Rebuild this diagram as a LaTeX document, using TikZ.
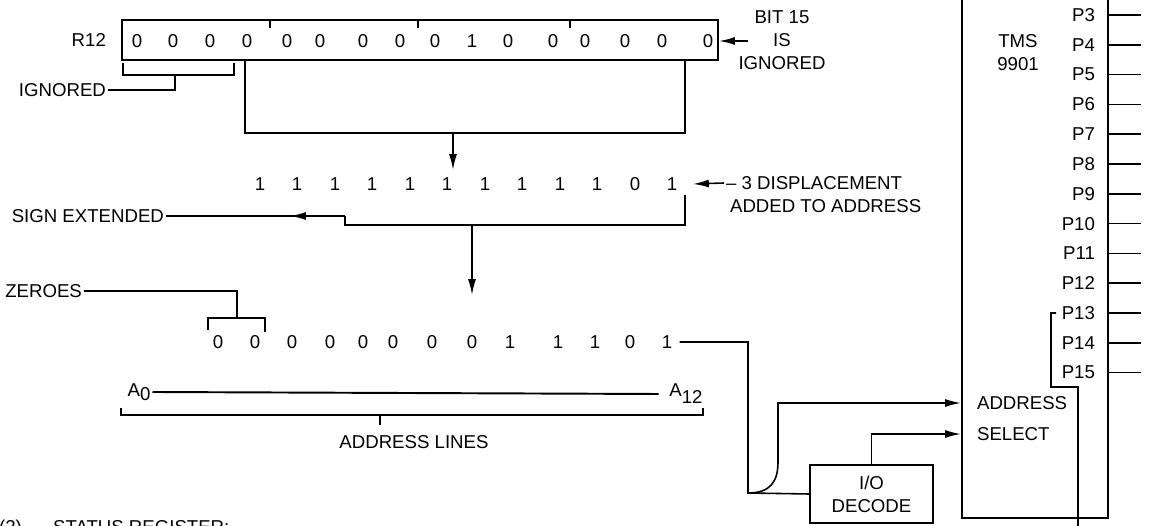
\documentclass[tikz,border=0pt]{standalone}
\usepackage{fontspec}
\setmainfont{Liberation Sans}
\usepackage{tikz}
\usetikzlibrary{arrows.meta,positioning,calc}
\tikzset{
  lbl/.style={font=\fontsize{10.6}{13}\selectfont, inner sep=1pt},
  bitlbl/.style={font=\fontsize{10.6}{13}\selectfont, inner sep=0pt},
  wire/.style={line width=0.9pt},
  line/.style={-{Latex[length=9pt,width=4.5pt]}, line width=0.9pt},
  regbox/.style={draw, line width=1.3pt, minimum width=11.92cm, minimum height=0.8cm, inner sep=0pt},
  chipbox/.style={draw, line width=1.1pt, inner sep=0pt}
}

\begin{document}
\begin{tikzpicture}[x=0.02cm, y=-0.02cm]
  \useasboundingbox (0,0) rectangle (1150,526);

  % register R12
  \node[regbox] (reg) at (420,40) {};
  \node[lbl, anchor=east] (r12) at (108,40) {R12};
  \foreach \x/\b [count=\i] in {137/0,173/0,210/0,247/0,287/0,320/0,363/0,400/0,
                                435/0,472/1,508/0,553/0,585/0,625/0,662/0,708/0}
    \node[bitlbl] (r\i) at (\x,41) {\b};
  \foreach \x in {270,418,570}
    \draw[wire] (\x,20) -- (\x,28);
  \node[lbl, align=center] (bit15) at (782,40) {BIT 15\\IS\\IGNORED};
  \coordinate (b15) at (748,41);
  \draw[line] (b15) -- (reg.east |- b15);

  % ignored bits
  \node[lbl, anchor=east] (ign) at (108,90) {IGNORED};
  \draw[wire] (123,63) -- (123,75) -- (234,75) -- (234,63);
  \draw[wire] (ign.east) -| (175,75);

  % bits taken from R12
  \draw[wire] (245,60) -- (245,133) -- (685,133) -- (685,60);
  \draw[line] (453,133) -- (453,170);

  % displacement
  \foreach \x/\b [count=\i] in {260/1,297/1,335/1,372/1,410/1,447/1,485/1,522/1,
                                560/1,597/1,635/0,672/1}
    \node[bitlbl] (s\i) at (\x,184) {\b};
  \node[lbl, anchor=west] (disp) at (724,183) {– 3 DISPLACEMENT};
  \node[lbl, anchor=west] (added) at (728,206) {ADDED TO ADDRESS};
  \draw[line] (disp.west) -- (693,184);

  % sign extension
  \node[lbl, anchor=east] (sgn) at (166,216) {SIGN EXTENDED};
  \draw[wire] (685,195) -- (685,225) -- (345,225) -- (345,216);
  \draw[line] (345,216) -- (290,216);
  \draw[wire] (300,216) -- (sgn.east);
  \draw[line] (472,225) -- (472,295);

  % address bits
  \node[lbl, anchor=east] (zer) at (84,291) {ZEROES};
  \draw[wire] (zer.east) -| (237,318);
  \draw[wire] (208,330) -- (208,318) -- (265,318) -- (265,332);
  \foreach \x/\b [count=\i] in {218/0,255/0,292/0,330/0,363/0,393/0,432/0,472/0,
                                510/1,558/1,595/1,630/0,667/1}
    \node[bitlbl] (z\i) at (\x,342) {\b};

  % TMS 9901
  \node[chipbox, minimum width=2.92cm, minimum height=10.8cm] (tms) at (1035,248) {};
  \node[lbl, align=center] (tmslbl) at (1018,53) {TMS\\9901};
  \node[lbl, anchor=west] (adr) at (975,403) {ADDRESS};
  \node[lbl, anchor=west] (sel) at (975,434) {SELECT};
  \foreach \n [count=\i from 0] in {3,...,15} {
    \node[lbl, anchor=east] (p\n) at (1097,{15+29.8*\i}) {P\n};
    \draw[wire] (p\n.east -| tms.east) -- ++(32,0);
  }
  \draw[wire] ([xshift=-2pt]p13.west) -- (1051,313) -- (1051,387) -- (1078,387) -- (1078,530);

  % I/O decode
  \node[chipbox, lbl, inner sep=0pt, minimum width=2.46cm, minimum height=1.16cm, align=center] (iod) at (871.5,494) {I/O\\DECODE};

  % address select paths
  \draw[wire] ([xshift=4pt]z13.east) -- (748,342) -- (748,493) -- (iod.west);
  \draw[line] (748,493) .. controls (770,493) and (778,482) .. (778,462) -- (778,403) -- (adr.west -| tms.west);
  \draw[line] (iod.north) |- (sel.west -| tms.west);

  % address lines
  \node[lbl] (a0) at (139,392) {A\raisebox{-2pt}{0}};
  \node[lbl] (a12) at (686,394) {A\raisebox{-4pt}{12}};
  \draw[line width=1.1pt] (a0.east) -- ([xshift=-5pt]a12.west);
  \draw[wire] (121,408) -- (121,415) -- (703,415) -- (703,408);
  \draw[wire] (380,415) -- (380,425);
  \node[lbl] (adl) at (414,442) {ADDRESS LINES};

  % next caption, cut at the edge
  \node[lbl, anchor=base west] (stat) at (-3,534) {(2)\hspace{1.4em} STATUS REGISTER:};
\end{tikzpicture}
\end{document}
